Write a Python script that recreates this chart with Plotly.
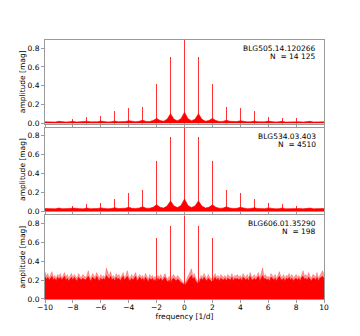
import numpy as np
import plotly.graph_objects as go
from plotly.subplots import make_subplots

RED = "#ff0000"
SPINE = "#9a9a9a"
FONT = "DejaVu Sans, sans-serif"

# frequency bins [1/d]
FREQ_COARSE = np.linspace(-10, 10, 81)    # 0.25 d^-1 bins
FREQ_FINE = np.linspace(-10, 10, 201)     # 0.1 d^-1 bins

# --- BLG505.14.120266, N = 14 125 ---
NAME_1 = "BLG505.14.120266"
N_1 = "N  = 14 125"
PEAK_FREQ_1 = [-9, -8, -7, -6, -5, -4, -3, -2, -1, 0, 1, 2, 3, 4, 5, 6, 7, 8, 9]
PEAK_AMP_1 = [0.06, 0.05, 0.07, 0.075, 0.13, 0.16, 0.18, 0.42, 0.70, 1.0,
              0.70, 0.42, 0.18, 0.16, 0.13, 0.07, 0.055, 0.06, 0.05]
NOISE_1 = [
    0.018, 0.016, 0.019, 0.017, 0.024, 0.018, 0.016, 0.019, 0.024, 0.017,
    0.018, 0.016, 0.025, 0.018, 0.017, 0.019, 0.026, 0.018, 0.017, 0.019,
    0.027, 0.019, 0.018, 0.022, 0.030, 0.021, 0.020, 0.024, 0.036, 0.023,
    0.022, 0.032, 0.055, 0.032, 0.025, 0.045, 0.105, 0.045, 0.030, 0.052,
    0.120,
    0.052, 0.030, 0.045, 0.105, 0.045, 0.025, 0.032, 0.055, 0.032, 0.022,
    0.023, 0.036, 0.024, 0.020, 0.021, 0.030, 0.022, 0.018, 0.019, 0.027,
    0.019, 0.017, 0.018, 0.026, 0.019, 0.017, 0.018, 0.025, 0.016, 0.018,
    0.017, 0.024, 0.019, 0.016, 0.018, 0.024, 0.017, 0.019, 0.016, 0.018,
]

# --- BLG534.03.403, N = 4510 ---
NAME_2 = "BLG534.03.403"
N_2 = "N  = 4510"
PEAK_FREQ_2 = [-9, -8, -7, -6, -5, -4, -3, -2, -1, 0, 1, 2, 3, 4, 5, 6, 7, 8, 9]
PEAK_AMP_2 = [0.065, 0.06, 0.08, 0.095, 0.13, 0.20, 0.23, 0.54, 0.79, 1.0,
              0.79, 0.54, 0.23, 0.20, 0.13, 0.095, 0.08, 0.06, 0.065]
NOISE_2 = [
    0.030, 0.026, 0.028, 0.027, 0.034, 0.028, 0.026, 0.029, 0.034, 0.027,
    0.028, 0.026, 0.035, 0.028, 0.027, 0.029, 0.036, 0.028, 0.027, 0.029,
    0.038, 0.029, 0.028, 0.032, 0.042, 0.031, 0.030, 0.034, 0.048, 0.033,
    0.032, 0.042, 0.070, 0.042, 0.035, 0.055, 0.110, 0.055, 0.040, 0.062,
    0.130,
    0.062, 0.040, 0.055, 0.110, 0.055, 0.035, 0.042, 0.070, 0.042, 0.032,
    0.033, 0.048, 0.034, 0.030, 0.031, 0.042, 0.032, 0.028, 0.029, 0.038,
    0.029, 0.027, 0.028, 0.036, 0.029, 0.027, 0.028, 0.035, 0.026, 0.028,
    0.027, 0.034, 0.029, 0.026, 0.028, 0.034, 0.027, 0.028, 0.026, 0.030,
]

# --- BLG606.01.35290, N = 198 ---
NAME_3 = "BLG606.01.35290"
N_3 = "N  = 198"
PEAK_FREQ_3 = [-2, -1, 0, 1, 2]
PEAK_AMP_3 = [0.64, 0.77, 1.0, 0.77, 0.64]
# upper envelope (light spikes)
NOISE_3 = [
    0.29, 0.24, 0.27, 0.22, 0.26, 0.29, 0.23, 0.25, 0.22, 0.26,
    0.24, 0.27, 0.22, 0.25, 0.28, 0.23, 0.26, 0.22, 0.24, 0.27,
    0.23, 0.26, 0.24, 0.22, 0.27, 0.25, 0.22, 0.26, 0.24, 0.23,
    0.25, 0.30, 0.24, 0.22, 0.27, 0.25, 0.23, 0.28, 0.24, 0.22,
    0.26, 0.23, 0.25, 0.22, 0.33, 0.27, 0.24, 0.29, 0.23, 0.25,
    0.22, 0.27, 0.24, 0.26, 0.22, 0.25, 0.28, 0.23, 0.25, 0.30,
    0.24, 0.22, 0.26, 0.23, 0.25, 0.28, 0.22, 0.24, 0.26, 0.23,
    0.25, 0.22, 0.27, 0.24, 0.21, 0.26, 0.23, 0.25, 0.22, 0.24,
    0.21, 0.25, 0.23, 0.26, 0.22, 0.24, 0.27, 0.23, 0.21, 0.24,
    0.19, 0.23, 0.26, 0.24, 0.22, 0.25, 0.23, 0.21, 0.20, 0.18,
    0.16, 0.19, 0.22, 0.25, 0.28, 0.32, 0.24, 0.27, 0.22, 0.20,
    0.18, 0.22, 0.25, 0.23, 0.27, 0.24, 0.22, 0.26, 0.23, 0.22,
    0.21, 0.24, 0.27, 0.23, 0.25, 0.22, 0.26, 0.24, 0.23, 0.25,
    0.22, 0.26, 0.24, 0.23, 0.27, 0.22, 0.25, 0.24, 0.26, 0.23,
    0.25, 0.22, 0.27, 0.24, 0.23, 0.26, 0.22, 0.28, 0.24, 0.23,
    0.26, 0.23, 0.25, 0.28, 0.22, 0.27, 0.33, 0.24, 0.26, 0.23,
    0.24, 0.22, 0.27, 0.25, 0.23, 0.26, 0.22, 0.25, 0.29, 0.24,
    0.23, 0.26, 0.22, 0.25, 0.24, 0.27, 0.23, 0.26, 0.22, 0.24,
    0.26, 0.23, 0.25, 0.22, 0.27, 0.30, 0.24, 0.26, 0.23, 0.28,
    0.24, 0.22, 0.26, 0.25, 0.23, 0.28, 0.22, 0.25, 0.27, 0.30,
    0.26,
]
# dense lower envelope (solid part of the band)
FLOOR_3 = [
    0.24, 0.21, 0.23, 0.20, 0.22, 0.24, 0.20, 0.22, 0.19, 0.23,
    0.21, 0.23, 0.20, 0.22, 0.24, 0.20, 0.22, 0.19, 0.21, 0.23,
    0.20, 0.23, 0.21, 0.19, 0.23, 0.21, 0.20, 0.22, 0.21, 0.20,
    0.22, 0.24, 0.21, 0.19, 0.23, 0.22, 0.20, 0.24, 0.21, 0.19,
    0.22, 0.20, 0.22, 0.20, 0.25, 0.23, 0.21, 0.24, 0.20, 0.22,
    0.19, 0.23, 0.21, 0.22, 0.19, 0.22, 0.24, 0.20, 0.22, 0.24,
    0.21, 0.19, 0.22, 0.20, 0.22, 0.24, 0.19, 0.21, 0.23, 0.20,
    0.22, 0.19, 0.23, 0.21, 0.18, 0.22, 0.20, 0.22, 0.19, 0.21,
    0.18, 0.22, 0.20, 0.22, 0.19, 0.21, 0.23, 0.20, 0.18, 0.20,
    0.16, 0.20, 0.22, 0.21, 0.19, 0.21, 0.20, 0.18, 0.17, 0.16,
    0.15, 0.16, 0.19, 0.21, 0.23, 0.25, 0.21, 0.23, 0.19, 0.17,
    0.16, 0.19, 0.22, 0.20, 0.23, 0.21, 0.19, 0.22, 0.20, 0.19,
    0.18, 0.21, 0.23, 0.20, 0.22, 0.19, 0.22, 0.21, 0.20, 0.22,
    0.19, 0.22, 0.21, 0.20, 0.23, 0.19, 0.22, 0.21, 0.22, 0.20,
    0.22, 0.19, 0.23, 0.21, 0.20, 0.22, 0.19, 0.24, 0.21, 0.20,
    0.22, 0.20, 0.22, 0.24, 0.19, 0.23, 0.25, 0.21, 0.22, 0.20,
    0.21, 0.19, 0.23, 0.22, 0.20, 0.22, 0.19, 0.22, 0.24, 0.21,
    0.20, 0.22, 0.19, 0.22, 0.21, 0.23, 0.20, 0.22, 0.19, 0.21,
    0.22, 0.20, 0.22, 0.19, 0.23, 0.24, 0.21, 0.22, 0.20, 0.23,
    0.21, 0.19, 0.22, 0.22, 0.20, 0.23, 0.19, 0.22, 0.23, 0.24,
    0.22,
]

Y_TICKS = [0.0, 0.2, 0.4, 0.6, 0.8]
X_TICKS = [-10, -8, -6, -4, -2, 0, 2, 4, 6, 8, 10]

panels = [
    (NAME_1, N_1, [(FREQ_COARSE, NOISE_1, RED)], PEAK_FREQ_1, PEAK_AMP_1),
    (NAME_2, N_2, [(FREQ_COARSE, NOISE_2, RED)], PEAK_FREQ_2, PEAK_AMP_2),
    (NAME_3, N_3, [(FREQ_FINE, NOISE_3, "rgba(255,0,0,0.4)"),
                   (FREQ_FINE, FLOOR_3, RED)], PEAK_FREQ_3, PEAK_AMP_3),
]

fig = make_subplots(rows=3, cols=1, shared_xaxes=True, vertical_spacing=0.016)

for i, (name, n_text, bands, pf, pa) in enumerate(panels, start=1):
    for fx, fy, col in bands:
        fig.add_trace(go.Scatter(
            x=fx, y=fy, mode="lines",
            line=dict(color=col, width=0.6),
            fill="tozeroy", fillcolor=col,
            hoverinfo="skip", showlegend=False,
        ), row=i, col=1)
    fig.add_trace(go.Bar(
        x=pf, y=pa, width=0.06,
        marker=dict(color="rgba(255,0,0,0.8)", line=dict(width=0)),
        showlegend=False,
    ), row=i, col=1)
    fig.add_annotation(text=name, xref="x domain", yref="y domain",
                       x=0.98, y=1, yshift=-2, xanchor="right", yanchor="top",
                       showarrow=False, font=dict(size=7.5, color="#000"),
                       row=i, col=1)
    fig.add_annotation(text=n_text, xref="x domain", yref="y domain",
                       x=0.98, y=1, yshift=-10, xanchor="right", yanchor="top",
                       showarrow=False, font=dict(size=7.5, color="#000"),
                       row=i, col=1)
    fig.update_yaxes(
        range=[0, 0.885], tickvals=Y_TICKS, tickformat=".1f",
        title=dict(text="amplitude [mag]", standoff=0, font=dict(size=7.5)),
        row=i, col=1,
    )

fig.update_xaxes(range=[-10, 10], tickvals=X_TICKS,
                 showline=True, mirror=True, linecolor=SPINE, linewidth=1,
                 ticks="outside", ticklen=3, tickcolor=SPINE,
                 showgrid=False, zeroline=False, automargin=False)
fig.update_yaxes(showline=True, mirror=True, linecolor=SPINE, linewidth=1,
                 ticks="outside", ticklen=3, tickcolor=SPINE,
                 showgrid=False, zeroline=False, automargin=False)
fig.update_xaxes(title=dict(text="frequency [1/d]", standoff=0,
                            font=dict(size=7.5)),
                 ticklabelstandoff=-2, row=3, col=1)

# the page body keeps its default 8px margin, so the margins absorb it
fig.update_layout(
    width=360, height=336,
    margin=dict(l=37, r=44, t=32, b=45),
    paper_bgcolor="white", plot_bgcolor="white",
    font=dict(family=FONT, size=7.5, color="#000"),
    bargap=0, showlegend=False,
)

fig.write_html("out.html")
